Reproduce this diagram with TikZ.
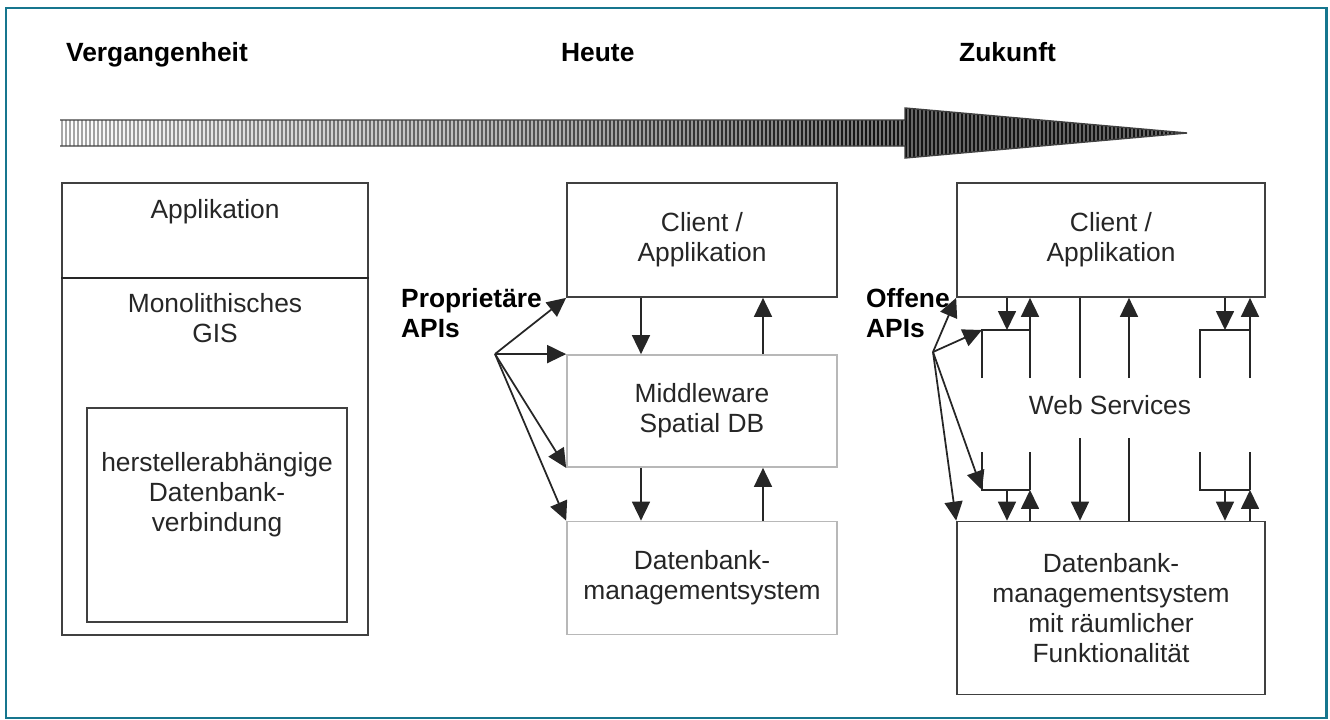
\documentclass[tikz,border=0pt]{standalone}
\usepackage{fontspec}
\setmainfont{Liberation Sans}
\usetikzlibrary{arrows.meta}
\definecolor{framecol}{RGB}{22,118,142}
\newcommand{\boxfont}{\fontsize{15pt}{17pt}\selectfont}
\tikzset{
    box/.style = {draw = black!75, line width = 1pt, inner sep = 0pt, align = center, text = black!85},
    lightbox/.style = {box, draw = black!28},
    label/.style = {align = center, text = black!85},
    title/.style = {anchor = west, align = left, font = \boxfont\bfseries},
    link/.style = {line width = 1pt, black!85},
    flow/.style = {link, -{Triangle[length = 0.38cm, width = 0.36cm]}}
}
\begin{document}
\begin{tikzpicture}[x = 0.02cm, y = -0.02cm, font = \boxfont]
        \useasboundingbox (0,0) rectangle (1330,720);
        \draw[framecol, line width = 1.7pt] (6,8) rectangle (1326,718);

        % Zeitachse
        \node[title, anchor = base west] (past) at (60,61) {Vergangenheit};
        \node[title, anchor = base west] (today) at (555,61) {Heute};
        \node[title, anchor = base west] (future) at (953,61) {Zukunft};
        \begin{scope}
            \clip (60,120) -- (905,120) -- (905,108) -- (1187,133) -- (905,158) -- (905,146) -- (60,146) -- cycle;
            \shade[left color = white, right color = black!55] (60,100) rectangle (905,165);
            \fill[black!60] (905,100) rectangle (1190,165);
            \foreach \x in {62,66,...,1186} {
                \pgfmathtruncatemacro{\p}{min(92, 35 + 60*((\x-60)/845))}
                \draw[black!\p, line width = 1pt] (\x,100) -- (\x,165);
            }
        \end{scope}
        \draw[black!75, line width = 0.8pt] (60,120) -- (905,120) -- (905,108) -- (1187,133) -- (905,158) -- (905,146) -- (60,146);

        % Vergangenheit
        \node[box, minimum width = 6.12cm, minimum height = 9.04cm] (mono) at (215,409) {};
        \draw[link] (mono.west |- 0,278) -- (mono.east |- 0,278);
        \node[label] (app) at (215,212) {Applikation};
        \node[label] (gis) at (215,318) {Monolithisches\\GIS};
        \node[box, minimum width = 5.2cm, minimum height = 4.28cm] (dbcon) at (217,515) {};
        \node[label] (dbtext) at (217,495) {herstellerabhängige\\Datenbank-\\verbindung};

        % Heute
        \node[box, minimum width = 5.4cm, minimum height = 2.28cm] (mcl) at (702,240) {Client /\\Applikation};
        \node[lightbox, minimum width = 5.4cm, minimum height = 2.24cm] (mmw) at (702,411) {Middleware\\Spatial DB};
        \node[lightbox, minimum width = 5.4cm, minimum height = 2.26cm] (mdb) at (702,578) {Datenbank-\\managementsystem};
        \foreach \a/\b in {mcl/mmw, mmw/mdb} {
            \draw[flow] (641,0 |- \a.south) -- (641,0 |- \b.north);
            \draw[flow] (763,0 |- \b.north) -- (763,0 |- \a.south);
        }
        \node[title] (papitext) at (395,313) {Proprietäre\\APIs};
        \coordinate (papi) at (495,354);
        \foreach \t in {mcl.south west, mmw.north west, mmw.south west, mdb.north west}
            \draw[flow] (papi) -- (\t);

        % Zukunft
        \node[box, minimum width = 6.16cm, minimum height = 2.28cm] (rcl) at (1111,240) {Client /\\Applikation};
        \node[box, minimum width = 6.16cm, minimum height = 3.46cm] (rdb) at (1111,608) {Datenbank-\\managementsystem\\mit räumlicher\\Funktionalität};
        \node[label] (ws) at (1110,405) {Web Services};
        \foreach \l/\r in {982/1030, 1200/1250} {
            \draw[link] (\l,378) -- (\l,330) -- (\r,330);
            \draw[flow] (\r,378) -- (\r,0 |- rcl.south);
            \draw[flow] (\l+25,0 |- rcl.south) -- (\l+25,330);
            \draw[link] (\l,452) -- (\l,490) -- (\r,490);
            \draw[link] (\r,452) -- (\r,490);
            \draw[flow] (\r,0 |- rdb.north) -- (\r,490);
            \draw[flow] (\l+25,490) -- (\l+25,0 |- rdb.north);
        }
        \draw[link] (1080,0 |- rcl.south) -- (1080,378);
        \draw[flow] (1080,438) -- (1080,0 |- rdb.north);
        \draw[flow] (1129,378) -- (1129,0 |- rcl.south);
        \draw[link] (1129,438) -- (1129,0 |- rdb.north);
        \coordinate (wstop) at (982,330);
        \coordinate (wsbot) at (982,490);
        \node[title] (oapitext) at (860,313) {Offene\\APIs};
        \coordinate (oapi) at (933,352);
        \foreach \t in {rcl.south west, wstop, wsbot, rdb.north west}
            \draw[flow] (oapi) -- (\t);
\end{tikzpicture}
\end{document}
